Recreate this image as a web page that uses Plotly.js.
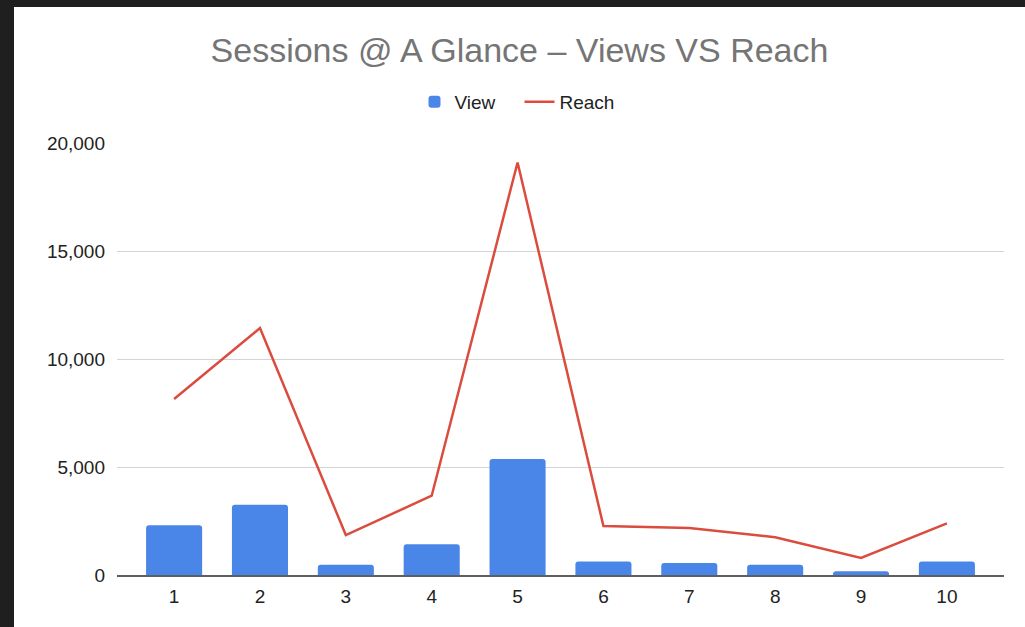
<!DOCTYPE html>
<html>
<head>
<meta charset="utf-8">
<script src="https://cdn.plot.ly/plotly-3.0.1.min.js"></script>
<style>
  html, body { margin: 0; padding: 0; background: #1f1f1f; width: 1025px; height: 627px; overflow: hidden; }
  #frame { position: absolute; left: 14px; top: 7px; width: 1011px; height: 620px; background: #ffffff; }
  #chart { width: 1011px; height: 620px; }
</style>
</head>
<body>
<div id="frame"><div id="chart"></div></div>
<script>
const categories = ["1", "2", "3", "4", "5", "6", "7", "8", "9", "10"];
const viewValues = [2300, 3250, 470, 1420, 5370, 630, 560, 480, 170, 630];
const reachValues = [8150, 11430, 1850, 3670, 19100, 2270, 2180, 1750, 790, 2390];
const yTickVals = [0, 5000, 10000, 15000, 20000];

const traces = [
  {
    type: 'bar',
    name: 'View',
    x: categories,
    y: viewValues,
    marker: { color: '#4a86e8' }
  },
  {
    type: 'scatter',
    mode: 'lines',
    name: 'Reach',
    x: categories,
    y: reachValues,
    line: { color: '#db4c3f', width: 2.5 }
  }
];

const layout = {
  width: 1011,
  height: 620,
  paper_bgcolor: '#ffffff',
  plot_bgcolor: '#ffffff',
  font: { family: 'Liberation Sans, Arial, sans-serif', color: '#222222', size: 19 },
  margin: { l: 103, r: 21, t: 136, b: 52, pad: 0 },
  title: {
    text: 'Sessions @ A Glance – Views VS Reach',
    font: { family: 'Liberation Sans, Arial, sans-serif', size: 34, color: '#757575' },
    x: 0.5, xanchor: 'center', xref: 'container',
    y: 1 - 43 / 620, yanchor: 'middle', yref: 'container'
  },
  showlegend: true,
  legend: {
    orientation: 'h',
    x: 0.5, xanchor: 'center', xref: 'container',
    y: 1 - 95 / 620, yanchor: 'middle', yref: 'container',
    font: { size: 19, color: '#222222' },
    itemwidth: 30,
    entrywidth: 60,
    traceorder: 'normal'
  },
  bargap: 0.347,
  barcornerradius: 3,
  xaxis: {
    type: 'category',
    range: [-0.665, 9.665],
    showgrid: false,
    showline: true,
    linecolor: '#5f5f5f',
    linewidth: 1.5,
    ticks: '',
    ticklabelstandoff: 4,
    tickfont: { size: 19, color: '#222222' },
    fixedrange: true
  },
  yaxis: {
    range: [0, 20000],
    tickvals: yTickVals,
    tickformat: ',d',
    showgrid: true,
    gridcolor: '#d4d4d4',
    gridwidth: 1,
    zeroline: false,
    showline: false,
    ticks: '',
    ticklabelstandoff: 11,
    tickfont: { size: 19, color: '#222222' },
    fixedrange: true
  }
};

Plotly.newPlot('chart', traces, layout, { displayModeBar: false, staticPlot: true });
</script>
</body>
</html>
